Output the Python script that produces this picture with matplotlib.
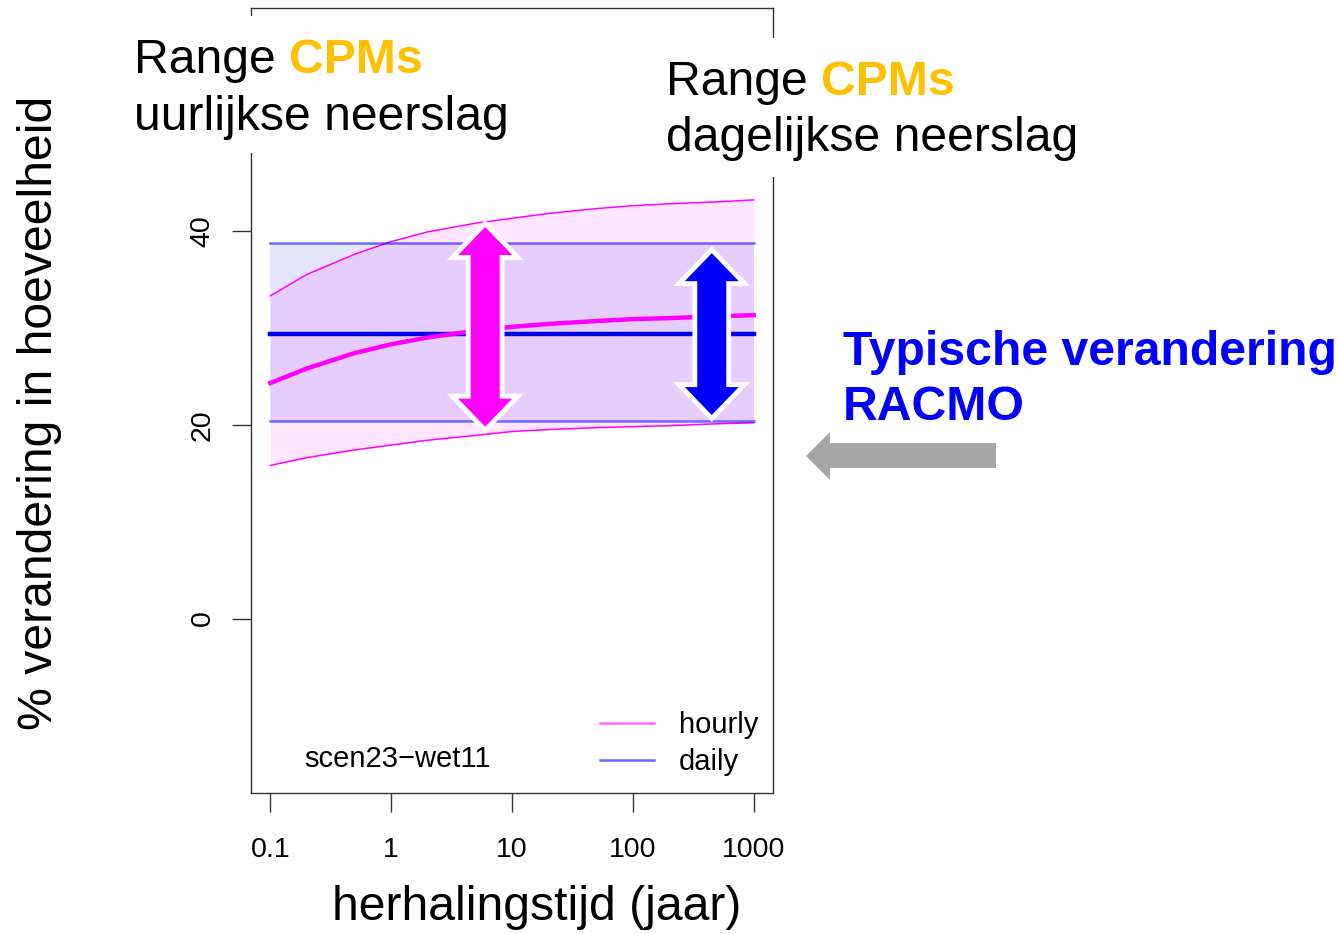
import matplotlib
matplotlib.use("Agg")
import matplotlib.pyplot as plt
from matplotlib.lines import Line2D
from matplotlib.patches import Polygon, Rectangle

plt.rcParams['font.family'] = ['Liberation Sans', 'DejaVu Sans']

# herhalingstijd (jaar) en % verandering
return_period = [0.1, 0.2, 0.5, 1, 2, 5, 10, 20, 50, 100, 200, 500, 1000]
hourly_low = [15.8, 16.6, 17.4, 17.9, 18.4, 18.9, 19.3, 19.5, 19.7, 19.8, 19.9, 20.1, 20.2]
hourly_mid = [24.3, 25.8, 27.4, 28.3, 29.0, 29.7, 30.1, 30.4, 30.7, 30.9, 31.0, 31.2, 31.3]
hourly_high = [33.3, 35.5, 37.6, 38.9, 39.9, 40.8, 41.3, 41.8, 42.3, 42.6, 42.8, 43.0, 43.2]
daily_low = [20.4] * len(return_period)
daily_mid = [29.4] * len(return_period)
daily_high = [38.8] * len(return_period)

xticks = [0.1, 1, 10, 100, 1000]
xtick_labels = ['0.1', '1', '10', '100', '1000']
yticks = [0, 20, 40]
legend_labels = ['hourly', 'daily']

# pijlen: (x, onder, boven)
arrow_hourly = (6, 19.8, 40.4)
arrow_daily = (450, 21.0, 37.7)

W, H = 1337, 934
BIG = 34.7
fig = plt.figure(figsize=(W / 100, H / 100), dpi=100)
ax = fig.add_axes([251 / W, 1 - 793 / H, (773 - 251) / W, (793 - 8) / H])

ax.fill_between(return_period, hourly_low, hourly_high, color='magenta', alpha=0.1, lw=0)
ax.fill_between(return_period, daily_low, daily_high, color='blue', alpha=0.1, lw=0)
ax.plot(return_period, hourly_low, color='magenta', lw=1.1)
ax.plot(return_period, hourly_high, color='magenta', lw=1.1)
ax.plot(return_period, daily_low, color='blue', alpha=0.55, lw=1.8)
ax.plot(return_period, daily_high, color='blue', alpha=0.55, lw=1.8)
ax.plot(return_period, daily_mid, color='#0000E0', lw=3.2)
ax.plot(return_period, hourly_mid, color='magenta', lw=3.2)

ax.set_xscale('log')
ax.set_xlim(10 ** -1.16, 10 ** 3.16)
ax.set_ylim(-18, 63)
ax.set_xticks(xticks)
ax.set_xticklabels(xtick_labels)
ax.minorticks_off()
ax.set_yticks(yticks)
ax.set_yticklabels([str(v) for v in yticks], rotation=90, va='center')
ax.tick_params(axis='both', direction='out', length=13.5, width=1, color='#333333',
               labelsize=20.5)
ax.tick_params(axis='x', pad=18.5)
ax.tick_params(axis='y', pad=12)
for s in ax.spines.values():
    s.set_color('#333333')
    s.set_linewidth(1)

handles = [Line2D([], [], color='magenta', alpha=0.6, lw=1.8),
           Line2D([], [], color='blue', alpha=0.6, lw=1.8)]
ax.legend(handles, legend_labels, loc='upper left', bbox_to_anchor=((600 - 251) / 522, 0.104),
          frameon=False, fontsize=21, handlelength=1.85, handletextpad=0.85,
          labelspacing=0.3, borderpad=0, borderaxespad=0)
ax.text(0.2797, 0.043, 'scen23\u2212wet11', transform=ax.transAxes, fontsize=21,
        ha='center', va='center')


def fig_pts(pts):
    return [(x / W, 1 - y / H) for x, y in pts]


def double_arrow(spec, color):
    xd, y0, y1 = spec
    cx, p0 = ax.transData.transform((xd, y0))
    _, p1 = ax.transData.transform((xd, y1))
    hw, sw, hl = 27, 14.5, 28
    pts = [(cx, p1), (cx + hw, p1 - hl), (cx + sw, p1 - hl), (cx + sw, p0 + hl),
           (cx + hw, p0 + hl), (cx, p0), (cx - hw, p0 + hl), (cx - sw, p0 + hl),
           (cx - sw, p1 - hl), (cx - hw, p1 - hl)]
    pts = fig.transFigure.inverted().transform(pts)
    fig.patches.append(Polygon(pts, closed=True, transform=fig.transFigure, fc='white',
                               ec='white', lw=7, joinstyle='miter', zorder=5))
    fig.patches.append(Polygon(pts, closed=True, transform=fig.transFigure, fc=color,
                               ec='none', zorder=6))


double_arrow(arrow_hourly, '#FF00FF')
double_arrow(arrow_daily, '#0000FF')

# witte vlakken achter de teksten
fig.patches.append(Rectangle((125 / W, 1 - 153 / H), 395 / W, 137 / H, transform=fig.transFigure,
                             fc='white', ec='none', zorder=2))
fig.patches.append(Rectangle((660 / W, 1 - 177 / H), 425 / W, 139 / H, transform=fig.transFigure,
                             fc='white', ec='none', zorder=2))

fig.canvas.draw()
renderer = fig.canvas.get_renderer()


def range_text(x, y1, y2, second):
    t = fig.text(x / W, 1 - y1 / H, 'Range', fontsize=BIG, va='baseline', zorder=7)
    bb = t.get_window_extent(renderer)
    space = 0.278 * BIG * 100 / 72
    fig.text((bb.x1 + space) / W, 1 - y1 / H, 'CPMs', fontsize=BIG, fontweight='bold',
             color='#FFC000', va='baseline', zorder=7)
    fig.text(x / W, 1 - y2 / H, second, fontsize=BIG, va='baseline', zorder=7)


range_text(134, 73, 130, 'uurlijkse neerslag')
range_text(666, 95, 151, 'dagelijkse neerslag')

fig.text(843 / W, 1 - 365 / H, 'Typische verandering', fontsize=BIG, fontweight='bold',
         color='#0000FF', va='baseline')
fig.text(843 / W, 1 - 420 / H, 'RACMO', fontsize=BIG, fontweight='bold',
         color='#0000FF', va='baseline')

gray = [(806, 456), (830, 432), (830, 443), (996, 443), (996, 468), (830, 468), (830, 480)]
fig.patches.append(Polygon(fig_pts(gray), closed=True, transform=fig.transFigure,
                           fc='#A6A6A6', ec='none', zorder=5))

fig.text(40 / W, 1 - 413 / H, '% verandering in hoeveelheid', fontsize=BIG, rotation=90,
         ha='center', va='center')
fig.text(537 / W, 1 - 907 / H, 'herhalingstijd (jaar)', fontsize=BIG, ha='center', va='center')

fig.savefig('out.png', dpi=100)
